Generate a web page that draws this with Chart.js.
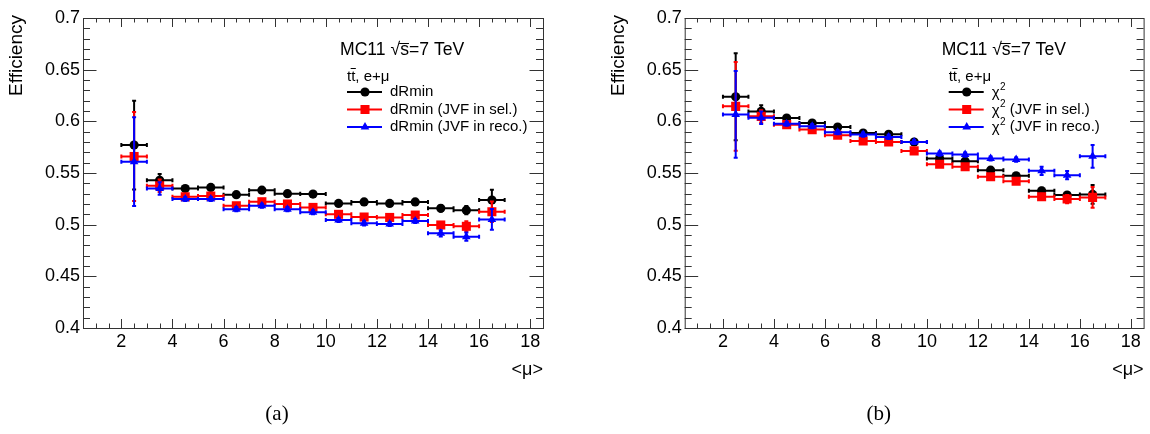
<!DOCTYPE html>
<html>
<head>
<meta charset="utf-8">
<script src="https://cdn.jsdelivr.net/npm/chart.js@4.4.0/dist/chart.umd.min.js"></script>
<style>
body { margin: 0; background: #fff; width: 1150px; height: 434px; overflow: hidden; position: relative; }
canvas { position: absolute; top: 0; }
</style>
</head>
<body>
<canvas id="chartA" width="575" height="434" style="left:0"></canvas>
<canvas id="chartB" width="575" height="434" style="left:575px"></canvas>
<script>
// bins of <mu>, each one unit wide
const binCenters = [2.5, 3.5, 4.5, 5.5, 6.5, 7.5, 8.5, 9.5, 10.5, 11.5, 12.5, 13.5, 14.5, 15.5, 16.5];
const binHalfWidth = 0.5;
const xTicks = [2, 4, 6, 8, 10, 12, 14, 16, 18];
const yTicks = [0.4, 0.45, 0.5, 0.55, 0.6, 0.65, 0.7];
const yTickLabels = ['0.4', '0.45', '0.5', '0.55', '0.6', '0.65', '0.7'];

// (a) dRmin
const dRmin = [0.577, 0.543, 0.535, 0.536, 0.529, 0.5334, 0.530, 0.5296, 0.5206, 0.522, 0.5206, 0.522, 0.5158, 0.514, 0.5238];
const dRminErr = [0.043, 0.006, 0.002, 0.002, 0.002, 0.002, 0.002, 0.002, 0.002, 0.002, 0.002, 0.002, 0.003, 0.004, 0.010];
const dRminSel = [0.566, 0.5376, 0.527, 0.5277, 0.5183, 0.5222, 0.520, 0.5167, 0.510, 0.5074, 0.507, 0.5093, 0.4997, 0.4984, 0.5125];
const dRminSelErr = [0.043, 0.006, 0.002, 0.002, 0.002, 0.002, 0.002, 0.002, 0.002, 0.002, 0.002, 0.002, 0.003, 0.005, 0.010];
const dRminReco = [0.561, 0.535, 0.5248, 0.5248, 0.515, 0.5183, 0.515, 0.512, 0.5045, 0.5013, 0.5006, 0.5035, 0.4916, 0.4884, 0.5051];
const dRminRecoErr = [0.043, 0.006, 0.002, 0.002, 0.002, 0.002, 0.002, 0.002, 0.002, 0.002, 0.002, 0.002, 0.003, 0.004, 0.010];

// (b) chi2
const chi2 = [0.6238, 0.6096, 0.6032, 0.5984, 0.5945, 0.5887, 0.5875, 0.580, 0.564, 0.5614, 0.5527, 0.5473, 0.5328, 0.5286, 0.5293];
const chi2Err = [0.042, 0.006, 0.002, 0.002, 0.002, 0.002, 0.002, 0.002, 0.002, 0.002, 0.002, 0.002, 0.003, 0.003, 0.009];
const chi2Sel = [0.6145, 0.6048, 0.5968, 0.592, 0.5865, 0.581, 0.580, 0.5714, 0.5585, 0.556, 0.5463, 0.5421, 0.527, 0.5248, 0.5264];
const chi2SelErr = [0.043, 0.006, 0.002, 0.002, 0.002, 0.002, 0.002, 0.002, 0.002, 0.002, 0.002, 0.002, 0.003, 0.004, 0.010];
const chi2Reco = [0.6067, 0.6035, 0.5977, 0.5952, 0.5894, 0.5872, 0.5849, 0.580, 0.5688, 0.5678, 0.564, 0.563, 0.5521, 0.5479, 0.5662];
const chi2RecoErr = [0.042, 0.006, 0.002, 0.002, 0.002, 0.002, 0.002, 0.002, 0.002, 0.002, 0.002, 0.002, 0.004, 0.004, 0.011];

const SANS = '"Liberation Sans", Arial, sans-serif';

function points(vals, errs) {
    return binCenters.map((x, i) => ({ x: x, y: vals[i], ex: binHalfWidth, ey: errs[i] }));
}

// draws error bars under each series, then ROOT style frame, ticks and texts
const rootPlot = {
    id: 'rootPlot',
    beforeDatasetDraw(chart, args) {
        const ds = chart.data.datasets[args.index];
        const xs = chart.scales.x, ys = chart.scales.y, ctx = chart.ctx;
        ctx.save();
        ctx.strokeStyle = ds.borderColor;
        ctx.lineWidth = 2;
        ctx.beginPath();
        ds.data.forEach(p => {
            const x0 = xs.getPixelForValue(p.x - p.ex), x1 = xs.getPixelForValue(p.x + p.ex);
            const px = xs.getPixelForValue(p.x), py = ys.getPixelForValue(p.y);
            const y0 = ys.getPixelForValue(p.y - p.ey), y1 = ys.getPixelForValue(p.y + p.ey);
            ctx.moveTo(x0, py); ctx.lineTo(x1, py);
            ctx.moveTo(x0, py - 2); ctx.lineTo(x0, py + 2);
            ctx.moveTo(x1, py - 2); ctx.lineTo(x1, py + 2);
            ctx.moveTo(px, y0); ctx.lineTo(px, y1);
            ctx.moveTo(px - 2, y0); ctx.lineTo(px + 2, y0);
            ctx.moveTo(px - 2, y1); ctx.lineTo(px + 2, y1);
        });
        ctx.stroke();
        ctx.restore();
    },
    afterDraw(chart, args, opts) {
        const ctx = chart.ctx, a = chart.chartArea;
        const xs = chart.scales.x, ys = chart.scales.y;
        const off = opts.off;
        ctx.save();
        ctx.strokeStyle = '#333';
        ctx.lineWidth = 1;
        ctx.strokeRect(a.left + 0.5, a.top + 0.5, a.right - a.left, a.bottom - a.top);
        // x ticks, bottom and top
        ctx.beginPath();
        for (let v = 1; v <= 18.001; v += 0.5) {
            const px = Math.round(xs.getPixelForValue(v)) + 0.5;
            const len = Math.abs(v % 2) < 1e-6 ? 9 : 4.5;
            ctx.moveTo(px, a.bottom); ctx.lineTo(px, a.bottom - len);
            ctx.moveTo(px, a.top); ctx.lineTo(px, a.top + len);
        }
        // y ticks, left and right
        for (let i = 0; i <= 30; i++) {
            const py = Math.round(ys.getPixelForValue(0.4 + i * 0.01)) + 0.5;
            const len = i % 5 === 0 ? 13.5 : 7;
            ctx.moveTo(a.left, py); ctx.lineTo(a.left + len, py);
            ctx.moveTo(a.right, py); ctx.lineTo(a.right - len, py);
        }
        ctx.stroke();

        ctx.fillStyle = '#000';
        // axis titles
        ctx.font = '19px ' + SANS;
        ctx.save();
        ctx.translate(17 + off, 15);
        ctx.rotate(-Math.PI / 2);
        ctx.textAlign = 'right';
        ctx.textBaseline = 'middle';
        ctx.fillText('Efficiency', 0, 0);
        ctx.restore();
        ctx.font = '18px ' + SANS;
        ctx.textAlign = 'right';
        ctx.textBaseline = 'middle';
        ctx.fillText('<\u03bc>', a.right, 370);
        // panel label
        ctx.font = '21px "Liberation Serif", "DejaVu Serif", serif';
        ctx.textAlign = 'center';
        ctx.fillText(opts.panel, 277 + off, 414);

        // MC11 sqrt(s)=7 TeV
        ctx.textAlign = 'left';
        ctx.textBaseline = 'middle';
        ctx.font = '17.6px ' + SANS;
        let x = 340 + off;
        ctx.fillText('MC11 \u221a', x, 50);
        x += ctx.measureText('MC11 \u221a').width;
        const sw = ctx.measureText('s').width;
        ctx.fillText('s', x, 50);
        ctx.beginPath();
        ctx.lineWidth = 1;
        ctx.strokeStyle = '#000';
        ctx.moveTo(x - 1, 43.5); ctx.lineTo(x + sw, 43.5);
        ctx.stroke();
        ctx.fillText('=7 TeV', x + sw, 50);

        // ttbar, e+mu
        ctx.font = '15px ' + SANS;
        x = 347 + off;
        const tw = ctx.measureText('t').width;
        ctx.fillText('t', x, 77);
        ctx.fillText('t', x + tw, 77);
        ctx.beginPath();
        ctx.moveTo(x + tw - 0.5, 68.5); ctx.lineTo(x + 2 * tw + 0.5, 68.5);
        ctx.stroke();
        ctx.fillText(', e+\u03bc', x + 2 * tw, 77);

        // legend entries
        const ly = [92, 109.5, 127];
        chart.data.datasets.forEach((ds, i) => {
            const y = ly[i];
            ctx.strokeStyle = ds.borderColor;
            ctx.fillStyle = ds.borderColor;
            ctx.lineWidth = 2;
            ctx.beginPath();
            ctx.moveTo(347 + off, y); ctx.lineTo(382 + off, y);
            ctx.stroke();
            Chart.helpers.drawPoint(ctx, { pointStyle: ds.pointStyle, radius: ds.pointRadius, rotation: 0, borderWidth: 0 }, 365 + off, y);
            ctx.fillStyle = '#000';
            ctx.font = '15px ' + SANS;
            let tx = 390 + off;
            const name = opts.names[i];
            if (name.sup) {
                ctx.fillText(name.base, tx, y + 1);
                tx += ctx.measureText(name.base).width + 0.5;
                ctx.font = '10px ' + SANS;
                ctx.fillText(name.sup, tx, y - 5);
                tx += ctx.measureText(name.sup).width;
                ctx.font = '15px ' + SANS;
                ctx.fillText(name.rest, tx, y);
            } else {
                ctx.fillText(name.text, tx, y);
            }
        });
        ctx.restore();
    }
};

function makePanel(id, off, panel, series, names) {
    const colors = ['#000000', '#ff0000', '#0000ff'];
    const styles = ['circle', 'rect', 'triangle'];
    const radii = [4.6, 6.4, 5];
    return new Chart(document.getElementById(id), {
        type: 'scatter',
        data: {
            datasets: series.map((s, i) => ({
                data: points(s[0], s[1]),
                borderColor: colors[i],
                backgroundColor: colors[i],
                pointStyle: styles[i],
                pointRadius: radii[i],
                pointBorderWidth: 0,
                order: 3 - i
            }))
        },
        options: {
            responsive: false,
            animation: false,
            events: [],
            layout: { padding: { left: 23 + off, right: 32 - off, top: 18, bottom: 66 } },
            plugins: {
                legend: { display: false },
                tooltip: { enabled: false },
                rootPlot: { off: off, panel: panel, names: names }
            },
            scales: {
                x: {
                    type: 'linear', min: 0.5, max: 18.5,
                    afterBuildTicks: s => { s.ticks = xTicks.map(v => ({ value: v })); },
                    afterFit: s => { s.height = 40; },
                    grid: { display: false, drawTicks: false },
                    border: { display: false },
                    ticks: { color: '#000', font: { family: SANS, size: 18 }, padding: 3, maxRotation: 0 }
                },
                y: {
                    type: 'linear', min: 0.4, max: 0.7,
                    afterBuildTicks: s => { s.ticks = yTicks.map(v => ({ value: v })); },
                    afterFit: s => { s.width = 60; },
                    grid: { display: false, drawTicks: false },
                    border: { display: false },
                    ticks: { color: '#000', font: { family: SANS, size: 18 }, padding: 3, callback: (v, i) => yTickLabels[i] }
                }
            }
        },
        plugins: [rootPlot]
    });
}

makePanel('chartA', 0, '(a)',
    [[dRmin, dRminErr], [dRminSel, dRminSelErr], [dRminReco, dRminRecoErr]],
    [{ text: 'dRmin' }, { text: 'dRmin (JVF in sel.)' }, { text: 'dRmin (JVF in reco.)' }]);

makePanel('chartB', 26.7, '(b)',
    [[chi2, chi2Err], [chi2Sel, chi2SelErr], [chi2Reco, chi2RecoErr]],
    [{ sup: '2', base: '\u03c7', rest: '' }, { sup: '2', base: '\u03c7', rest: ' (JVF in sel.)' }, { sup: '2', base: '\u03c7', rest: ' (JVF in reco.)' }]);
</script>
</body>
</html>
